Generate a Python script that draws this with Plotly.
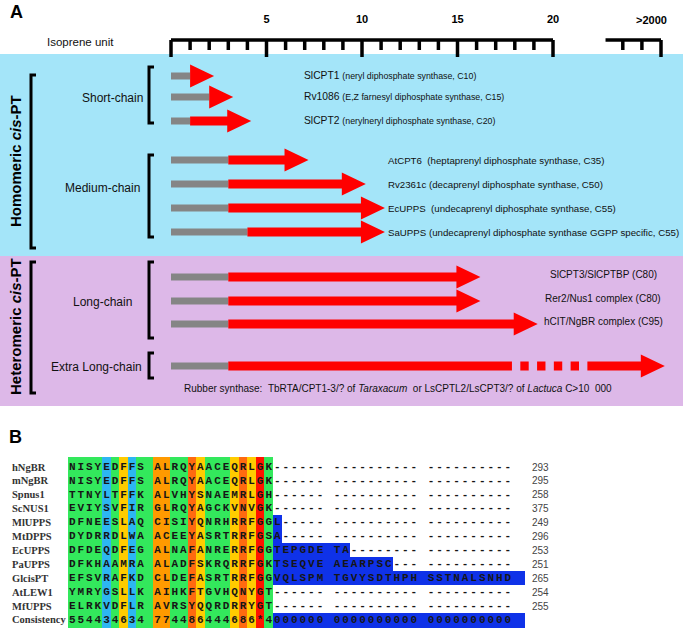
import plotly.graph_objects as go

W, H = 683, 628

# ---------------- Panel A data ----------------
chain_groups = ["Short-chain", "Medium-chain", "Long-chain", "Extra Long-chain"]
enzymes = ["SlCPT1", "Rv1086", "SlCPT2", "AtCPT6", "Rv2361c", "EcUPPS", "SaUPPS",
           "SlCPT3/SlCPTBP", "Rer2/Nus1 complex", "hCIT/NgBR complex", "Rubber synthase:"]
enzyme_group = [0, 0, 0, 1, 1, 1, 1, 2, 2, 2, 3]
starter_units = [1, 2, 1, 3, 3, 3, 4, 3, 3, 3, 3]          # grey part (isoprene units)
product_units = [2, 3, 4, 7, 10, 11, 11, 16, 16, 19, 2000]  # chain length (isoprene units)
enzyme_notes = ["(neryl diphosphate synthase, C10)",
                "(E,Z farnesyl diphosphate synthase, C15)",
                "(nerylneryl diphosphate synthase, C20)",
                "&nbsp;(heptaprenyl diphosphate synthase, C35)",
                "(decaprenyl diphosphate synthase, C50)",
                "&nbsp;(undecaprenyl diphosphate synthase, C55)",
                "(undecaprenyl diphosphate synthase GGPP specific, C55)",
                "(C80)", "(C80)", "(C95)",
                "&nbsp;TbRTA/CPT1-3/? of <i>Taraxacum</i>&nbsp; or LsCPTL2/LsCPT3/? of <i>Lactuca</i> C&gt;10&nbsp; 000"]
ruler_major = [5, 10, 15, 20]
ruler_minor = list(range(0, 21))
ruler_break_ticks = [1998, 1999, 2000]
ruler_break_label = ">2000"
families = ["Homomeric <i>cis</i>-PT", "Heteromeric <i>cis</i>-PT"]

# ---------------- Panel B data ----------------
seq_names = ["hNgBR", "mNgBR", "Spnus1", "ScNUS1", "MlUPPS", "MtDPPS", "EcUPPS",
             "PaUPPS", "GlcisPT", "AtLEW1", "MfUPPS", "Consistency"]
seqs = ["NISYEDFFS ALRQYAACEQRLGK------ ---------- ----------",
        "NISYEDFFS ALRQYAACEQRLGK------ ---------- ----------",
        "TTNYLTFFK ALVHYSNAEMRLGH------ ---------- ----------",
        "EVIYSVFIR GLRQYAGCKVNVGK------ ---------- ----------",
        "DFNEESLAQ CISIYQNRHRRFGGL----- ---------- ----------",
        "DYDRRDLWA ACEEYASRTRRFGSA----- ---------- ----------",
        "DFDEQDFEG ALNAFANRERRFGGTEPGDE TA-------- ----------",
        "DFKHAAMRA ALADFSKRQRRFGKTSEQVE AEARPSC--- ----------",
        "EFSVRAFKD CLDEFASRTRRFGGVQLSPM TGVYSDTHPH SSTNALSNHD",
        "YMRYGSLLK AIHKFTGVHQNYGT------ ---------- ----------",
        "ELRKVDFLR AVRSYQQRDRRYGT------ ---------- ----------"]
consistency = "554434634 774486444686*4000000 0000000000 0000000000"
seq_end_pos = [293, 295, 258, 375, 249, 296, 253, 251, 265, 254, 255]

# ---------------- layout constants ----------------
X0_PX, UNIT_PX = 171.0, 19.1
RULER2_END = (661 - X0_PX) / UNIT_PX
RULER2_START = 22.75
ROW_PX = [76, 97, 121, 160, 184, 208, 232, 277, 301, 324, 366]
HEAD_U = 24 / UNIT_PX
TIP_OVER = 0.2
GRAY_H, SHAFT_H, HEAD_HH = 3.5, 4.5, 11.5
RED, GRAY = "#FF0000", "#858585"
SANS = "Liberation Sans, Arial, sans-serif"

ALN_X0, COL_PX = 68.0, 8.54
ROW0, ROW_STEP = 467.0, 13.9


def ax_pos(v):
    return v if v <= 20 else RULER2_END - (2000 - v)


def px(x):
    return x / W


def u(xp):
    return (xp - X0_PX) / UNIT_PX


fig = go.Figure()
shapes, annos = [], []

# background panels
shapes.append(dict(type="rect", xref="paper", yref="y", x0=0, x1=1, y0=54, y1=256,
                   fillcolor="#A4E5F9", line_width=0, layer="below"))
shapes.append(dict(type="rect", xref="paper", yref="y", x0=0, x1=1, y0=256, y1=406,
                   fillcolor="#DDB8E8", line_width=0, layer="below"))

# ruler
RY, TALL, SHORT = 40, 57, 50
rx, ry = [0, 20, None], [RY, RY, None]
for t in ruler_minor:
    rx += [t, t, None]
    ry += [RY, TALL if t % 5 == 0 else SHORT, None]
b0 = ax_pos(ruler_break_ticks[-1])
rx += [RULER2_START, b0, None]
ry += [RY, RY, None]
for t in ruler_break_ticks:
    rx += [ax_pos(t), ax_pos(t), None]
    ry += [RY, TALL if t == 2000 else SHORT, None]
fig.add_trace(go.Scatter(x=rx, y=ry, mode="lines", line=dict(color="black", width=3.5),
                         hoverinfo="skip", showlegend=False))
fig.add_trace(go.Scatter(x=ruler_major, y=[20] * len(ruler_major), mode="text",
                         text=[str(v) for v in ruler_major],
                         textfont=dict(family=SANS, size=11, color="black", weight="bold"),
                         hoverinfo="skip", showlegend=False))
annos.append(dict(xref="x", yref="y", x=ax_pos(2000), y=20, text="<b>" + ruler_break_label + "</b>",
                  showarrow=False, xanchor="center", xshift=-10,
                  font=dict(family=SANS, size=11, color="black")))

# arrows
gx, gy, rxs, rys = [], [], [], []
for i in range(len(enzymes)):
    y = ROW_PX[i]
    s = starter_units[i]
    tip = max(ax_pos(product_units[i]) + TIP_OVER, s + HEAD_U)
    hb = tip - HEAD_U
    gx += [0, s, s, 0, 0, None]
    gy += [y - GRAY_H, y - GRAY_H, y + GRAY_H, y + GRAY_H, y - GRAY_H, None]
    if product_units[i] > 20:
        g0, g1 = 17.85, 21.8
        rxs += [s, g0, g0, s, s, None]
        rys += [y - SHAFT_H, y - SHAFT_H, y + SHAFT_H, y + SHAFT_H, y - SHAFT_H, None]
        seg = (g1 - g0) / 9
        for k in range(4):
            a, b = g0 + seg * (1 + 2 * k), g0 + seg * (2 + 2 * k)
            rxs += [a, b, b, a, a, None]
            rys += [y - SHAFT_H, y - SHAFT_H, y + SHAFT_H, y + SHAFT_H, y - SHAFT_H, None]
        s = g1
    rxs += [s, hb, hb, tip, hb, hb, s, s, None]
    rys += [y - SHAFT_H, y - SHAFT_H, y - HEAD_HH, y, y + HEAD_HH, y + SHAFT_H, y + SHAFT_H,
            y - SHAFT_H, None]
fig.add_trace(go.Scatter(x=gx, y=gy, mode="lines", fill="toself", fillcolor=GRAY,
                         line=dict(width=0, color=GRAY), hoverinfo="skip", showlegend=False))
fig.add_trace(go.Scatter(x=rxs, y=rys, mode="lines", fill="toself", fillcolor=RED,
                         line=dict(width=0, color=RED), hoverinfo="skip", showlegend=False))

# enzyme labels
for i, name in enumerate(enzymes):
    g = enzyme_group[i]
    y = ROW_PX[i]
    if g == 0:
        txt = f"{name} <span style='font-size:8.8px'>{enzyme_notes[i]}</span>"
        annos.append(dict(xref="paper", yref="y", x=px(302), y=y - 1, text=txt, xanchor="left",
                          showarrow=False, font=dict(family=SANS, size=10.3, color="#111")))
    elif g == 1:
        annos.append(dict(xref="paper", yref="y", x=px(386), y=y, text=f"{name} {enzyme_notes[i]}",
                          xanchor="left", showarrow=False,
                          font=dict(family=SANS, size=9.7, color="#111")))
    elif g == 2:
        annos.append(dict(xref="paper", yref="y", x=px(603), y=y - 3, text=f"{name} {enzyme_notes[i]}",
                          xanchor="center", showarrow=False,
                          font=dict(family=SANS, size=10, color="#111")))
    else:
        annos.append(dict(xref="paper", yref="y", x=px(182), y=y + 22, text=f"{name} {enzyme_notes[i]}",
                          xanchor="left", showarrow=False,
                          font=dict(family=SANS, size=10, color="#111")))


# brackets and group labels
def bracket(x, y0, y1, w=5, lw=3):
    shapes.append(dict(type="path", xref="x", yref="y",
                       path=f"M {u(x + w)},{y0} L {u(x)},{y0} L {u(x)},{y1} L {u(x + w)},{y1}",
                       line=dict(color="black", width=lw)))


GROUP_BRACKET = [(67, 123), (155, 237), (262, 338), (353, 378)]
GROUP_LABEL = [(112, 98), (102, 188), (102, 302), (96, 367)]
for gi, gname in enumerate(chain_groups):
    bracket(149, *GROUP_BRACKET[gi])
    annos.append(dict(xref="paper", yref="y", x=px(GROUP_LABEL[gi][0]), y=GROUP_LABEL[gi][1],
                      text=gname, showarrow=False, xanchor="center",
                      font=dict(family=SANS, size=12, color="#111")))

FAMILY_BRACKET = [(75, 248), (262, 393)]
FAMILY_Y = [161, 327]
for fi, fname in enumerate(families):
    bracket(31, *FAMILY_BRACKET[fi])
    annos.append(dict(xref="paper", yref="y", x=px(15), y=FAMILY_Y[fi], text=f"<b>{fname}</b>",
                      textangle=-90, showarrow=False, xanchor="center", yanchor="middle",
                      font=dict(family=SANS, size=15, color="black")))

annos.append(dict(xref="paper", yref="y", x=px(80), y=42, text="Isoprene unit", showarrow=False,
                  xanchor="center", font=dict(family=SANS, size=11.5, color="#111")))
annos.append(dict(xref="paper", yref="y", x=px(16), y=12, text="<b>A</b>", showarrow=False,
                  xanchor="center", font=dict(family=SANS, size=18, color="black")))
annos.append(dict(xref="paper", yref="y", x=px(15), y=437, text="<b>B</b>", showarrow=False,
                  xanchor="center", font=dict(family=SANS, size=18, color="black")))

# ---------------- Panel B: alignment ----------------
rows = seqs + [consistency]
ncol = len(consistency)
colored_end = consistency.index("0")
code = {"0": 1, "3": 2, "4": 3, "5": 3, "6": 4, "7": 5, "8": 6, "*": 7, " ": 3}
palette = ["#0F32E8", "#2DB6F2", "#33E85C", "#FFCC00", "#FF9A00", "#FF6A10", "#FF1500"]
z = []
for r, s in enumerate(rows):
    line = []
    letters = [c for c, ch in enumerate(s) if ch.isalnum() or ch == "*"]
    last = max(letters)
    for c in range(ncol + 1):
        if c < colored_end:
            line.append(code[consistency[c]])
        elif c < ncol:
            ch = s[c]
            line.append(1 if (c <= last and ch != "-") else None)
        else:
            line.append(1 if last == ncol - 1 else None)
    z.append(line)
row_y = [ROW0 + ROW_STEP * i for i in range(len(rows))]
y_edges = [457] + [yy + 6.5 for yy in row_y[:-1]] + [632]
x_edges = list(range(ncol + 1)) + [ncol + 1.5]
cs = []
n = len(palette)
for k, col in enumerate(palette):
    cs += [[k / n, col], [(k + 1) / n, col]]
fig.add_trace(go.Heatmap(z=z, x=x_edges, y=y_edges, xaxis="x2", yaxis="y", colorscale=cs,
                         zmin=0.5, zmax=n + 0.5, showscale=False, hoverinfo="skip"))

for r, s in enumerate(rows):
    xs = [c + 0.5 for c, ch in enumerate(s) if ch != " "]
    ts = [ch for ch in s if ch != " "]
    fig.add_trace(go.Scatter(x=xs, y=[row_y[r]] * len(xs), xaxis="x2", yaxis="y", mode="text",
                             text=ts, textfont=dict(family="Liberation Mono, Courier New, monospace",
                                                    size=11, color="#161616", weight="bold"),
                             hoverinfo="skip", showlegend=False))
    annos.append(dict(xref="paper", yref="y", x=px(10), y=row_y[r], text=seq_names[r],
                      xanchor="left", showarrow=False,
                      font=dict(family="Liberation Serif, Times New Roman, serif", size=10.5,
                                color="#333", weight="bold")))
    if r < len(seq_end_pos):
        annos.append(dict(xref="paper", yref="y", x=px(530), y=row_y[r], text=str(seq_end_pos[r]),
                          xanchor="left", showarrow=False,
                          font=dict(family=SANS, size=10, color="#444")))

fig.update_layout(
    width=W, height=H, margin=dict(l=0, r=0, t=0, b=0),
    paper_bgcolor="white", plot_bgcolor="white", showlegend=False,
    xaxis=dict(range=[-X0_PX / UNIT_PX, (W - X0_PX) / UNIT_PX], visible=False, fixedrange=True),
    xaxis2=dict(range=[-ALN_X0 / COL_PX, (W - ALN_X0) / COL_PX], visible=False, overlaying="x",
                anchor="y", fixedrange=True),
    yaxis=dict(range=[H, 0], visible=False, fixedrange=True),
    shapes=shapes, annotations=annos,
)
fig.write_html("out.html", config={"displayModeBar": False},
               post_script="document.body.style.margin='0px';document.body.style.overflow='hidden';")
